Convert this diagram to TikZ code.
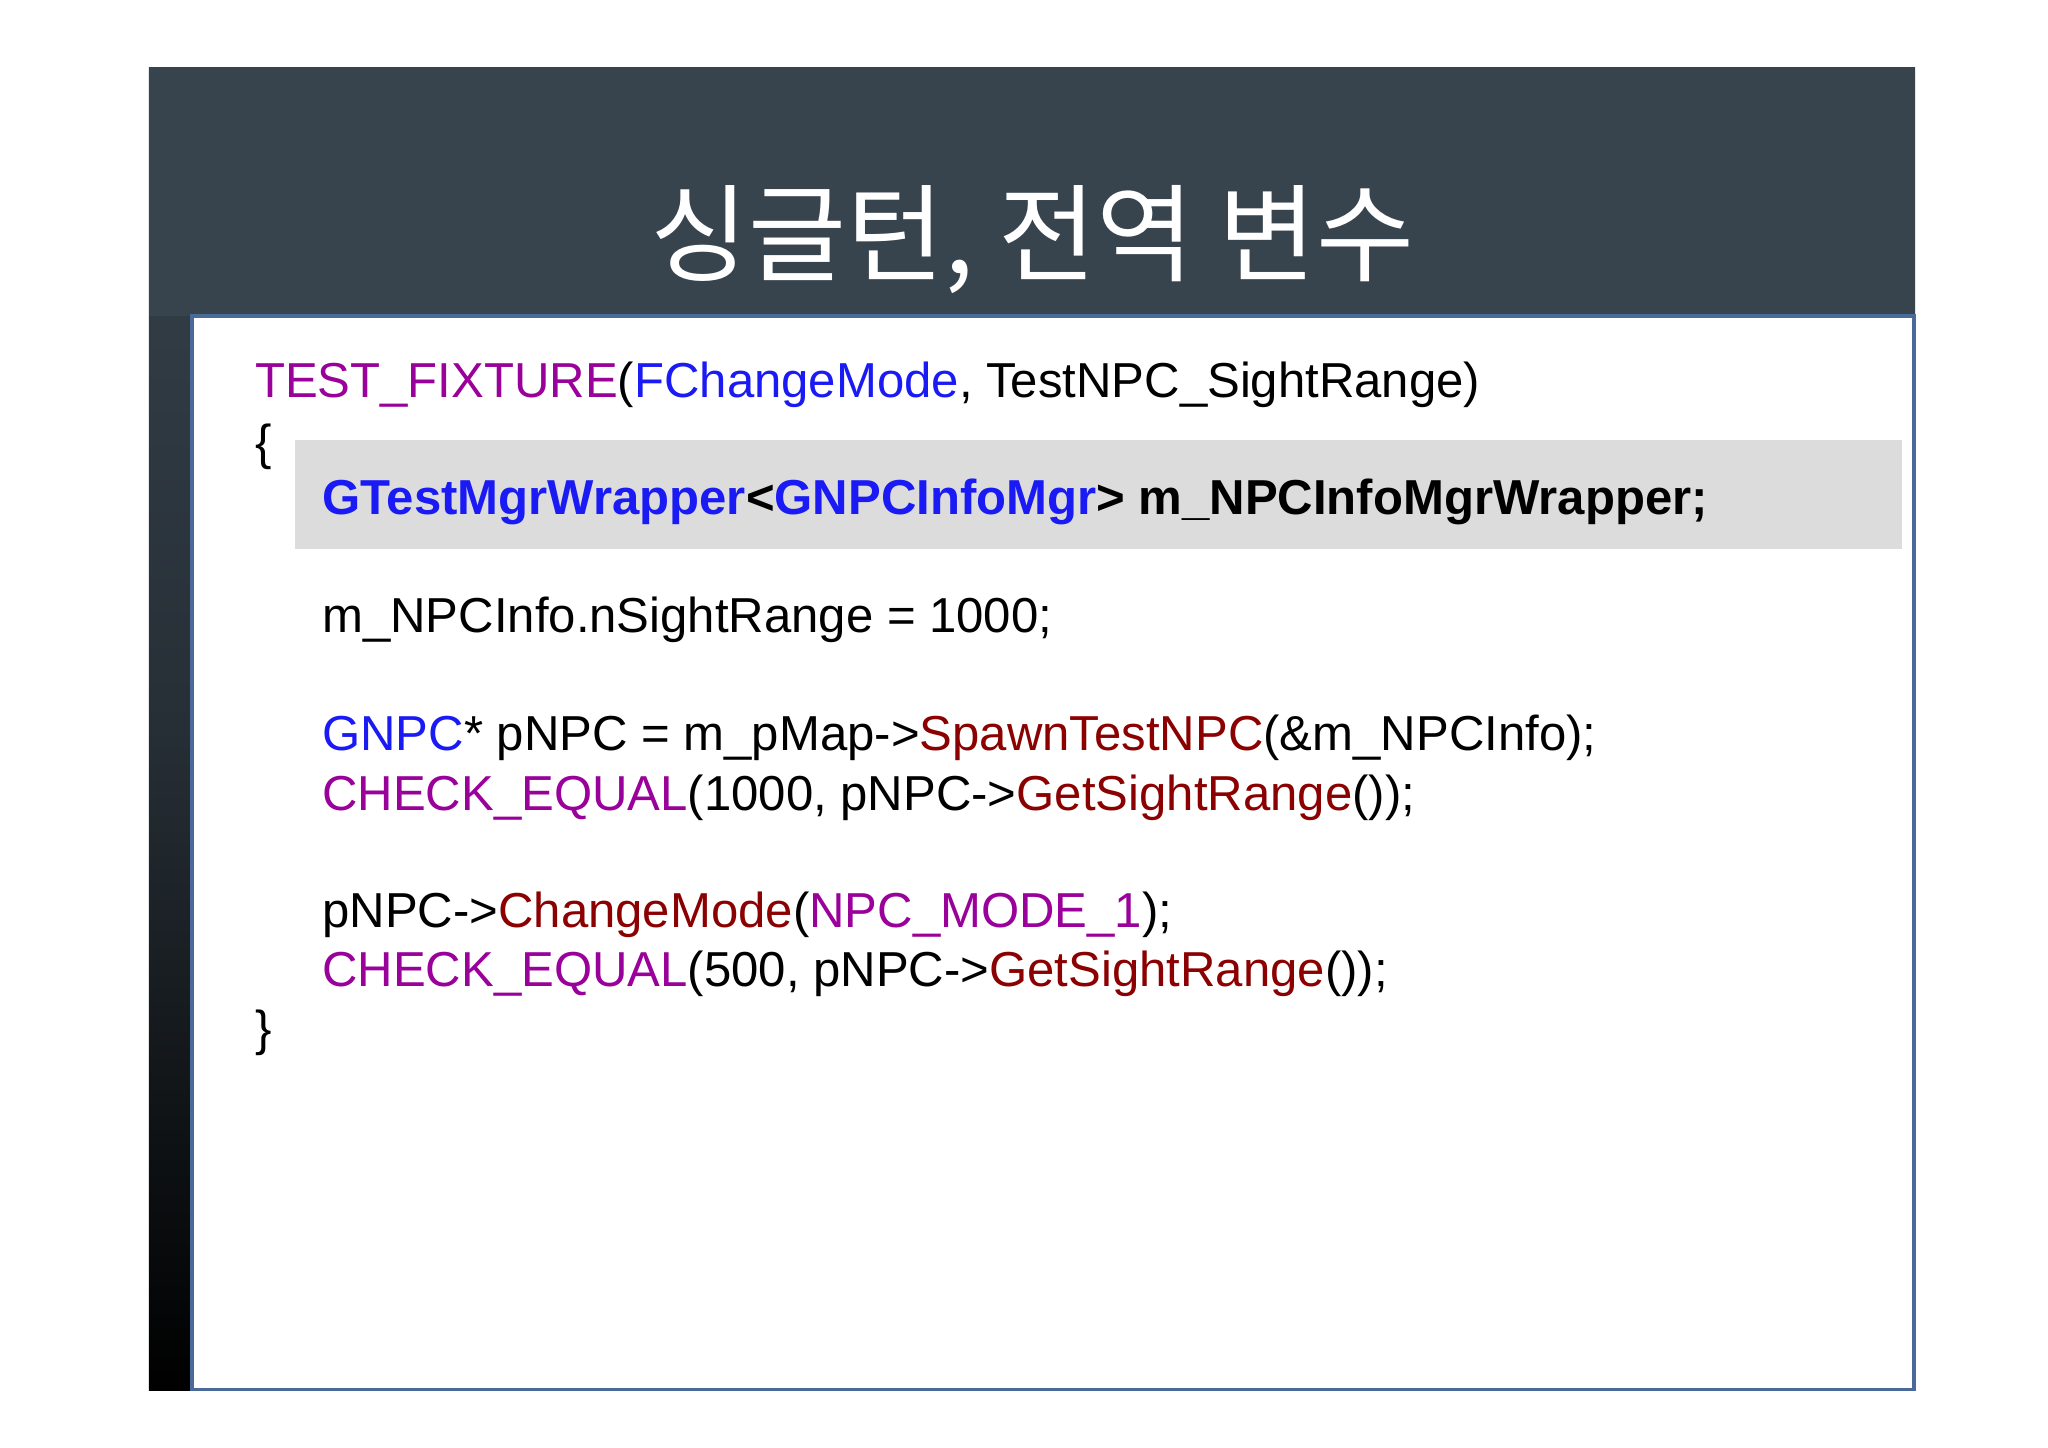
\documentclass[tikz,border=0pt]{standalone}
\usepackage{fontspec}
\setmainfont{Liberation Sans}
\newfontfamily\kr{Noto Sans CJK KR}
\definecolor{slate}{HTML}{37434D}
\definecolor{kpurple}{HTML}{9A009A}
\definecolor{kblue}{HTML}{1A1AF5}
\definecolor{kred}{HTML}{8B0000}
\definecolor{hl}{HTML}{DCDCDC}
\definecolor{pborder}{HTML}{4A6A9A}
\begin{document}
\begin{tikzpicture}[x=0.01cm,y=-0.01cm,
  code/.style={anchor=base west,inner sep=0pt,font=\fontsize{10.6pt}{12pt}\selectfont}]
\useasboundingbox (0,0) rectangle (1555,1099);
\fill[white] (0,0) rectangle (1555,1099);
\shade[top color=slate,bottom color=black,middle color=slate!70!black] (113,51) rectangle (1454,1056);
\fill[slate] (113,51) rectangle (1454,240);
\node[font=\kr\fontsize{23pt}{26pt}\selectfont,text=white] (title) at (784,182) {싱글턴, 전역 변수};
\draw[pborder,fill=white,line width=0.8pt] (146,240) rectangle (1453,1055);
\fill[hl] (224,334) rectangle (1444,417);
\node[code] (l1) at (193,302) {\textcolor{kpurple}{TEST\_FIXTURE}(\textcolor{kblue}{FChangeMode}, TestNPC\_SightRange)};
\node[code] (l2) at (193,349) {\{};
\node[code] (l3) at (244,391) {\bfseries\textcolor{kblue}{GTestMgrWrapper}<\textcolor{kblue}{GNPCInfoMgr}> m\_NPCInfoMgrWrapper;};
\node[code] (l4) at (244,480) {m\_NPCInfo.nSightRange = 1000;};
\node[code] (l5) at (244,570) {\textcolor{kblue}{GNPC}* pNPC = m\_pMap->\textcolor{kred}{SpawnTestNPC}(\&m\_NPCInfo);};
\node[code] (l6) at (244,615) {\textcolor{kpurple}{CHECK\_EQUAL}(1000, pNPC->\textcolor{kred}{GetSightRange}());};
\node[code] (l7) at (244,704) {pNPC->\textcolor{kred}{ChangeMode}(\textcolor{kpurple}{NPC\_MODE\_1});};
\node[code] (l8) at (244,749) {\textcolor{kpurple}{CHECK\_EQUAL}(500, pNPC->\textcolor{kred}{GetSightRange}());};
\node[code] (l9) at (193,794) {\}};
\end{tikzpicture}
\end{document}
